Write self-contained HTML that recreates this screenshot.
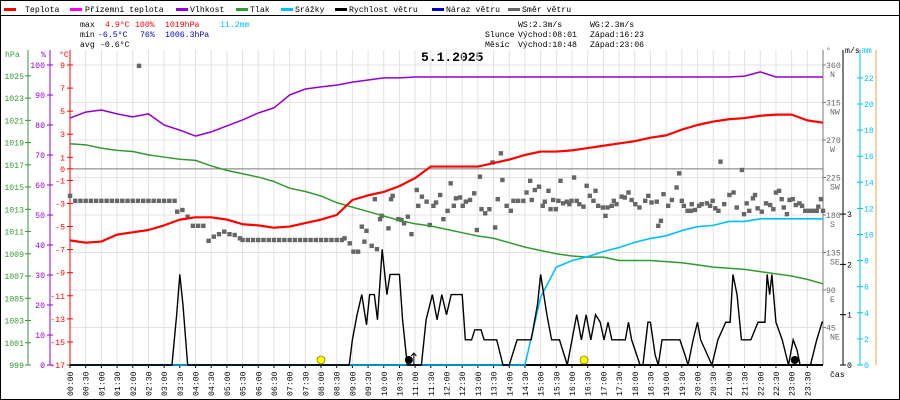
<!DOCTYPE html>
<html><head><meta charset="utf-8">
<style>
html,body{margin:0;padding:0;background:#fff;}
svg{display:block;font-family:"Liberation Mono",monospace;}
text{font-size:8.2px;}
</style></head>
<body>
<svg id="chart" width="900" height="400" viewBox="0 0 900 400" xmlns="http://www.w3.org/2000/svg">
<rect x="0.5" y="0.5" width="899" height="399" fill="#fff" stroke="#000"/>
<line x1="0" y1="15.5" x2="900" y2="15.5" stroke="#000"/>
<g>
 <g><rect x="4" y="8" width="12" height="3" fill="#f00"/><text x="25" y="12">Teplota</text></g>
 <g><rect x="70" y="8" width="12" height="3" fill="#f0f"/><text x="85" y="12">Přízemní teplota</text></g>
 <g><rect x="176" y="8" width="12" height="3" fill="#9400d3"/><text x="190" y="12">Vlhkost</text></g>
 <g><rect x="236" y="8" width="12" height="3" fill="#339933"/><text x="250" y="12">Tlak</text></g>
 <g><rect x="281" y="8" width="12" height="3" fill="#00bfff"/><text x="295" y="12">Srážky</text></g>
 <g><rect x="335" y="8" width="12" height="3" fill="#000"/><text x="349" y="12">Rychlost větru</text></g>
 <g><rect x="432" y="8" width="12" height="3" fill="#0000cc"/><text x="446" y="12">Náraz větru</text></g>
 <g><rect x="508" y="8" width="12" height="3" fill="#666"/><text x="522" y="12">Směr větru</text></g>
</g>
<g>
 <text x="80" y="27">max</text><text x="105" y="27" fill="#f00">4.9°C</text><text x="135" y="27" fill="#f00">100%</text><text x="165" y="27" fill="#f00">1019hPa</text><text x="220" y="27" fill="#00bfff">11.2mm</text>
 <text x="80" y="37">min</text><text x="98" y="37" fill="#0000cc">-6.5°C</text><text x="140" y="37" fill="#0000cc">76%</text><text x="165" y="37" fill="#0000cc">1006.3hPa</text>
 <text x="80" y="47">avg</text><text x="100" y="47">-0.6°C</text>
</g>
<g>
 <text x="518" y="27">WS:2.3m/s</text><text x="590" y="27">WG:2.3m/s</text>
 <text x="485" y="37">Slunce</text><text x="518" y="37">Východ:08:01</text><text x="590" y="37">Západ:16:23</text>
 <text x="485" y="47">Měsíc</text><text x="518" y="47">Východ:10:48</text><text x="590" y="47">Západ:23:06</text>
</g>
<text x="421" y="61" style="font-size:13px;font-weight:bold;font-family:'Liberation Mono',monospace">5.1.2025</text>
<g id="grid"></g>
<g id="axes"></g>
<g id="series"></g>
</svg>
<script>
// ---- data ----
const halfHourLabels = ["00:00","00:30","01:00","01:30","02:00","02:30","03:00","03:30","04:00","04:30","05:00","05:30","06:00","06:30","07:00","07:30","08:00","08:30","09:00","09:30","10:00","10:30","11:00","11:30","12:00","12:30","13:00","13:30","14:00","14:30","15:00","15:30","16:00","16:30","17:00","17:30","18:00","18:30","19:00","19:30","20:00","20:30","21:00","21:30","22:00","22:30","23:00","23:30"];
const tempC = [-6.2,-6.4,-6.3,-5.7,-5.5,-5.3,-4.9,-4.4,-4.2,-4.2,-4.4,-4.8,-4.9,-5.1,-5.0,-4.7,-4.4,-4.0,-2.7,-2.3,-2.0,-1.5,-0.8,0.2,0.2,0.2,0.2,0.5,0.8,1.2,1.5,1.5,1.6,1.8,2.0,2.2,2.4,2.7,2.9,3.4,3.8,4.1,4.3,4.4,4.6,4.7,4.7,4.2,4.0];
const humidity = [82.3,84.3,85,83.7,82.7,83.7,80,78.3,76.3,77.7,79.7,81.7,84,85.7,90,92,92.7,93.3,94.3,95,95.7,95.7,96,96,96,96,96,96,96,96,96,96,96,96,96,96,96,96,96,96,96,96,96,96.3,97.7,96,96,96,96];
const pressure = [1018.9,1018.8,1018.5,1018.3,1018.2,1017.9,1017.7,1017.5,1017.4,1016.9,1016.5,1016.2,1015.9,1015.5,1014.9,1014.6,1014.2,1013.6,1013.2,1012.8,1012.4,1012.0,1011.7,1011.5,1011.2,1010.9,1010.6,1010.4,1010.0,1009.6,1009.3,1009.0,1008.8,1008.7,1008.7,1008.4,1008.4,1008.4,1008.3,1008.2,1008.0,1007.8,1007.7,1007.6,1007.4,1007.2,1007.0,1006.7,1006.3];
const rainMm = [0,0,0,0,0,0,0,0,0,0,0,0,0,0,0,0,0,0,0,0,0,0,0,0,0,0,0,0,0,0,5.2,7.5,8.0,8.3,8.7,9.0,9.4,9.7,9.9,10.3,10.6,10.7,11.0,11.0,11.2,11.2,11.2,11.2,11.2];
const windHours = [0,3.25,3.4,3.5,3.6,3.75,8.9,9.0,9.15,9.3,9.45,9.55,9.7,9.8,9.95,10.1,10.2,10.5,10.6,10.75,11.2,11.35,11.55,11.7,11.85,12.0,12.15,12.5,12.6,12.8,12.9,13.1,13.2,13.6,13.8,14.0,14.25,14.7,14.9,15.0,15.2,15.35,15.6,15.85,16.0,16.15,16.3,16.45,16.6,16.75,16.9,17.02,17.15,17.27,17.7,17.8,17.9,18.17,18.26,18.42,18.5,18.65,18.75,18.87,19.44,19.6,19.7,19.86,20.0,20.1,20.46,20.65,20.9,21.04,21.13,21.26,21.4,21.7,21.93,22.15,22.22,22.3,22.37,22.5,22.7,22.9,23.05,23.17,23.27,23.6,23.8,23.97,24];
const windMs = [0,0,1.0,1.8,1.2,0,0,0.5,1.0,1.4,0.8,1.4,1.4,0.9,2.3,1.4,1.8,1.8,0.9,0,0,0.9,1.4,0.9,1.4,1.0,1.4,1.4,0.5,0.5,0.7,0.7,0.5,0.5,0,0,0.5,0.5,1.2,1.8,1.0,0.5,0.5,0,0.5,1.0,0.5,1.0,0.5,1.0,0.85,0.5,0.85,0.5,0.5,0.85,0.5,0,0,0.85,0.85,0.2,0,0.5,0.5,0.2,0,0.5,0.85,0.5,0,0.5,0.85,0.85,1.8,1.4,0.5,0.5,0.85,0.85,1.8,1.4,1.8,0.85,0.5,0,0.5,0.3,0,0,0.5,0.85,0.85];
const dirMinutes = [0,10,20,30,40,50,60,70,80,90,100,110,120,130,140,150,160,170,180,190,200,132,205,215,225,235,245,255,265,275,285,295,305,315,325,330,340,350,360,370,380,390,400,410,420,430,440,450,460,470,480,490,500,510,520,525,535,
542,551,558,563,567,577,587,583,593,596,609,614,617,628,634,639,646,653,663,666,673,682,688,695,700,708,714,722,728,734,738,746,751,757,765,773,778,784,787,794,802,808,813,818,824,827,835,843,848,857,867,873,880,883,889,897,904,908,915,919,924,929,934,938,943,950,955,959,964,969,974,982,988,994,1001,1005,1010,
1019,1024,1028,1036,1040,1045,1055,1061,1068,1074,1081,1089,1100,1106,1112,1122,1125,1130,1135,1144,1151,1160,1165,1170,1174,1181,1187,1189,1195,1203,1208,1218,1224,1229,1234,1240,1244,1251,1261,1269,1275,1285,1289,1294,1299,1306,1310,1315,1323,1331,1339,1345,1350,1356,1361,1365,1371,1376,1382,1388,1395,1400,1406,1414,1421,1428,1431,1436,1440];
const dirDegrees = [203,197,197,197,197,197,197,197,197,197,197,197,197,197,197,197,197,197,197,197,197,359,184,186,178,167,167,167,149,154,157,160,157,156,152,150,150,150,150,150,150,150,150,150,150,150,150,150,150,150,150,150,150,150,150,152,146,
136,136,166,148,161,143,139,199,175,179,164,199,203,175,174,170,178,157,210,191,202,196,168,191,195,204,175,185,218,191,200,201,191,196,198,206,162,226,187,182,187,243,165,199,254,222,191,185,197,197,197,207,221,198,210,214,191,196,209,187,198,187,197,221,194,196,193,197,225,197,193,190,215,203,197,209,191,
189,179,189,191,197,193,202,201,207,198,193,189,197,203,195,196,167,173,205,191,198,213,230,197,191,185,185,193,186,191,193,194,191,197,188,185,244,193,204,207,189,234,181,194,185,200,204,188,184,194,192,187,207,209,199,189,181,198,199,192,194,191,185,185,185,185,190,199,185];
const tempTicks = [9,7,5,3,1,0,-1,-3,-5,-7,-9,-11,-13,-15,-17];
const humTicks = [100,90,80,70,60,50,40,30,20,10,0];
const pressTicks = [1025,1023,1021,1019,1017,1015,1013,1011,1009,1007,1005,1003,1001,999];
const dirTicks = [360,315,270,225,180,135,90,45];
const dirNames = ["N","NW","W","SW","S","SE","E","NE"];
const windTicks = [0,1,2,3];
const rainTicks = [0,2,4,6,8,10,12,14,16,18,20,22];
const sunEvents = [8.0,16.383];
const moonEvents = [10.8,23.1];

// ---- scales ----
const X0=70, X1=823, Y0=65, Y1=365;
const xT = h => X0 + h*(X1-X0)/24;
const xI = i => X0 + i*(X1-X0)/48;
const yTemp = t => Y1 - (t+17)*(Y1-Y0)/26;
const yHum = h => Y1 - h*(Y1-Y0)/100;
const yPress = p => Y1 - (p-999)*11.12;
const yDir = d => Y1 - d*(Y1-Y0)/360;
const yWind = w => Y1 - w*50.3;
const yRain = m => Y1 - m*13.05;

const NS="http://www.w3.org/2000/svg";
function mk(tag, parent, attrs){const e=document.createElementNS(NS,tag);for(const k in attrs)e.setAttribute(k,attrs[k]);parent.appendChild(e);return e;}
function txt(parent,x,y,s,fill,anchor){const t=mk('text',parent,{x:x,y:y,fill:fill||'#000','text-anchor':anchor||'start'});t.textContent=s;return t;}

const grid=document.getElementById('grid'), axes=document.getElementById('axes'), series=document.getElementById('series');
for(let i=1;i<48;i++){const l=mk('line',grid,{x1:xI(i),y1:Y0-15,x2:xI(i),y2:Y1,stroke:'#e6e0e0'});

}
for(let k=0;k<8;k++){const y=yDir(dirTicks[k]);const l=mk('line',grid,{x1:X0,y1:y,x2:X1,y2:y,stroke:'#e6e0e0'});

}
const zl=mk('line',grid,{x1:X0,y1:yTemp(0),x2:X1,y2:yTemp(0),stroke:'#777'});



mk('line',axes,{x1:28,y1:50,x2:28,y2:Y1,stroke:'#339933'});
mk('line',axes,{x1:50,y1:50,x2:50,y2:Y1,stroke:'#9400d3'});
mk('line',axes,{x1:70,y1:50,x2:70,y2:Y1,stroke:'#f00'});
txt(axes,5,57,'hPa','#339933');txt(axes,41,57,'%','#9400d3');txt(axes,59,57,'°C','#f00');
pressTicks.forEach(p=>{const y=yPress(p);mk('line',axes,{x1:25,y1:y,x2:31,y2:y,stroke:'#339933'});const t=txt(axes,24,y+3,String(p),'#339933','end');

});
humTicks.forEach(h=>{const y=yHum(h);mk('line',axes,{x1:47,y1:y,x2:53,y2:y,stroke:'#9400d3'});const t=txt(axes,45,y+3,String(h),'#9400d3','end');

});
tempTicks.forEach(c=>{const y=yTemp(c);mk('line',axes,{x1:67,y1:y,x2:73,y2:y,stroke:'#f00'});const t=txt(axes,65,y+3,String(c),'#f00','end');

});
mk('line',axes,{x1:X1,y1:50,x2:X1,y2:Y1,stroke:'#777'});
mk('line',axes,{x1:843,y1:50,x2:843,y2:Y1,stroke:'#000'});
mk('line',axes,{x1:860,y1:50,x2:860,y2:Y1,stroke:'#00bfff'});
mk('line',axes,{x1:876,y1:50,x2:876,y2:Y1,stroke:'#f4a040'});
txt(axes,826,53,'°','#666');txt(axes,845,53,'m/s','#000');txt(axes,862,53,'mm','#00bfff');
dirTicks.forEach((d,k)=>{const y=yDir(d);mk('line',axes,{x1:X1,y1:y,x2:X1+3,y2:y,stroke:'#777'});const t=txt(axes,826,y+3,String(d),'#666');


txt(axes,830,y+12,dirNames[k],'#666');});
windTicks.forEach(w=>{const y=yWind(w);mk('line',axes,{x1:840,y1:y,x2:846,y2:y,stroke:'#000'});const t=txt(axes,847,y+3,String(w),'#000');

});
rainTicks.forEach(m=>{const y=yRain(m);mk('line',axes,{x1:857,y1:y,x2:863,y2:y,stroke:'#00bfff'});const t=txt(axes,864,y+3,String(m),'#00bfff');

});
txt(axes,830,377,'čas','#000');
halfHourLabels.forEach((s,i)=>{const x=xI(i);mk('line',axes,{x1:x,y1:Y1,x2:x,y2:Y1+3,stroke:'#000'});const t=mk('text',axes,{transform:`translate(${x+3},396) rotate(-90)`});t.textContent=s;

});
mk('line',axes,{x1:X0,y1:Y1,x2:X1,y2:Y1,stroke:'#000','stroke-width':2});

function poly(vals, xf, yf, color, w, name){const pts=vals.map((v,i)=>xf(i)+','+yf(v)).join(' ');const p=mk('polyline',series,{points:pts,fill:'none',stroke:color,'stroke-width':w,'stroke-linejoin':'round'});

}
dirMinutes.forEach((m,i)=>{const r=mk('rect',series,{x:xT(m/60)-2.2,y:yDir(dirDegrees[i])-2.2,width:4.4,height:4.4,fill:'#666'});

});
poly(pressure,xI,yPress,'#339933',1.5,'pressure-line');
poly(humidity,xI,yHum,'#9400d3',1.5,'humidity-line');
poly(tempC,xI,yTemp,'#f00',2.2,'temperature-line');
poly(rainMm,xI,yRain,'#00bfff',1.6,'rain-line');
{const pts=windHours.map((h,i)=>xT(h)+','+yWind(windMs[i])).join(' ');const p=mk('polyline',series,{points:pts,fill:'none',stroke:'#000','stroke-width':1.4});

}
sunEvents.forEach(h=>{const c=mk('circle',series,{cx:xT(h),cy:360,r:4,fill:'#ff0','stroke':'#887700','stroke-width':0.8});

});
moonEvents.forEach(h=>{const c=mk('circle',series,{cx:xT(h),cy:360,r:4,fill:'#000'});

});
{const x=xT(moonEvents[0])+5;const a=mk('path',series,{d:`M${x} 365 V353 M${x-2.5} 356 L${x} 353 L${x+2.5} 356`,stroke:'#000',fill:'none','stroke-width':1});

}
</script>
</body></html>
